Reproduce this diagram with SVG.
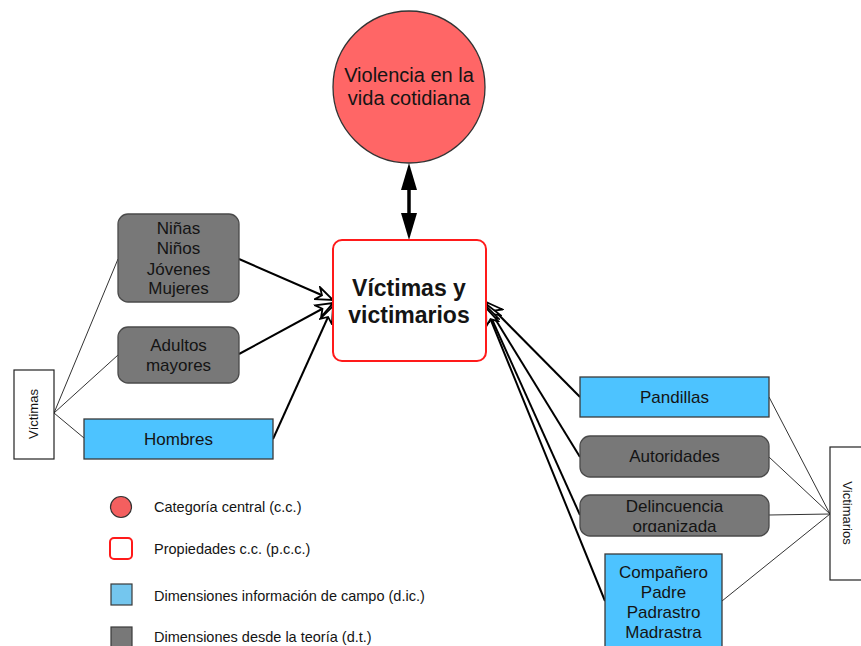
<svg xmlns="http://www.w3.org/2000/svg" width="861" height="646" viewBox="0 0 861 646">
<style>
  text { font-family: "Liberation Sans", Arial, sans-serif; fill: #141414; }
  .nt { font-size: 17px; text-anchor: middle; }
  .ct { font-size: 20px; text-anchor: middle; }
  .pt { font-size: 23px; font-weight: bold; text-anchor: middle; }
  .gray { fill: #787878; stroke: #4a4a4a; stroke-width: 1.3; }
  .blue { fill: #4dc3ff; stroke: #3a3a3a; stroke-width: 1.3; }
  .tag { fill: #ffffff; stroke: #222222; stroke-width: 1.2; }
  .thin { stroke: #333333; stroke-width: 1; fill: none; }
  .arr { stroke: #000000; stroke-width: 2; fill: none; marker-end: url(#open); }
  .lg { font-size: 14.5px; }
  .side { font-size: 13px; text-anchor: middle; }
</style>
<defs>
  <marker id="open" markerUnits="userSpaceOnUse" viewBox="0 0 20 16" markerWidth="20" markerHeight="16" refX="18" refY="8" orient="auto">
    <path d="M1,1.5 L18,8 L1,14.5 L6,8 Z" fill="#ffffff" stroke="#000000" stroke-width="1.8"/>
  </marker>
  <clipPath id="clipDel">
    <rect x="580" y="495" width="189" height="37"/>
  </clipPath>
</defs>

<!-- connectors -->
<g id="connectors">
  <!-- central category <-> properties (double-headed) -->
  <line x1="409" y1="172" x2="409" y2="231" stroke="#000" stroke-width="3.5"/>
  <path d="M409,163 L417,190 L401,190 Z" fill="#000"/>
  <path d="M409,240 L417,213 L401,213 Z" fill="#000"/>

  <!-- Víctimas label to its dimensions -->
  <line class="thin" x1="54" y1="413" x2="118" y2="259"/>
  <line class="thin" x1="54" y1="413" x2="118" y2="355"/>
  <line class="thin" x1="54" y1="413" x2="84" y2="438"/>

  <!-- Victimarios label to its dimensions -->
  <line class="thin" x1="830" y1="514" x2="769" y2="397"/>
  <line class="thin" x1="830" y1="514" x2="769" y2="457"/>
  <line class="thin" x1="830" y1="514" x2="769" y2="515"/>
  <line class="thin" x1="830" y1="514" x2="722" y2="601"/>

  <!-- dimensions to properties box -->
  <line class="arr" x1="239" y1="259" x2="333" y2="300"/>
  <line class="arr" x1="239" y1="354" x2="333" y2="303"/>
  <line class="arr" x1="273" y1="439" x2="333" y2="306"/>
  <line class="arr" x1="580" y1="397" x2="486" y2="302"/>
  <line class="arr" x1="580" y1="457" x2="486" y2="304"/>
  <line class="arr" x1="580" y1="515" x2="486" y2="306"/>
  <line class="arr" x1="605" y1="601" x2="486" y2="308"/>
</g>

<!-- central category -->
<g id="violencia">
  <circle cx="409" cy="87" r="76" fill="#ff6666" stroke="#333333" stroke-width="1.3"/>
  <text class="ct" x="409" y="82">Violencia en la</text>
  <text class="ct" x="409" y="105">vida cotidiana</text>
</g>

<!-- property of the central category -->
<g id="victimas-victimarios">
  <rect x="333" y="240" width="153" height="121" rx="9" fill="#ffffff" stroke="#ff1a1a" stroke-width="2"/>
  <text class="pt" x="409" y="296">Víctimas y</text>
  <text class="pt" x="409" y="323">victimarios</text>
</g>

<!-- Víctimas side -->
<g id="ninas">
  <rect class="gray" x="118" y="214" width="121" height="88" rx="10"/>
  <text class="nt" x="178.5" y="234">Niñas</text>
  <text class="nt" x="178.5" y="254">Niños</text>
  <text class="nt" x="178.5" y="275">Jóvenes</text>
  <text class="nt" x="178.5" y="294">Mujeres</text>
</g>
<g id="adultos">
  <rect class="gray" x="118" y="327" width="121" height="56" rx="10"/>
  <text class="nt" x="178.5" y="351">Adultos</text>
  <text class="nt" x="178.5" y="371">mayores</text>
</g>
<g id="hombres">
  <rect class="blue" x="84" y="419" width="189" height="40"/>
  <text class="nt" x="178.5" y="445">Hombres</text>
</g>
<g id="victimas">
  <rect class="tag" x="14" y="370" width="40" height="89"/>
  <text class="side" transform="translate(38,414) rotate(-90)">Víctimas</text>
</g>

<!-- Victimarios side -->
<g id="pandillas">
  <rect class="blue" x="580" y="377" width="189" height="40"/>
  <text class="nt" x="674.5" y="403">Pandillas</text>
</g>
<g id="autoridades">
  <rect class="gray" x="580" y="436" width="189" height="41" rx="10"/>
  <text class="nt" x="674.5" y="462">Autoridades</text>
</g>
<g id="delincuencia">
  <rect class="gray" x="580" y="495" width="189" height="41" rx="10"/>
  <g clip-path="url(#clipDel)">
    <text class="nt" x="674.5" y="512">Delincuencia</text>
    <text class="nt" x="674.5" y="532">organizada</text>
  </g>
</g>
<g id="familia">
  <rect class="blue" x="605" y="554" width="117" height="100"/>
  <text class="nt" x="663.5" y="578">Compañero</text>
  <text class="nt" x="663.5" y="598">Padre</text>
  <text class="nt" x="663.5" y="618">Padrastro</text>
  <text class="nt" x="663.5" y="638">Madrastra</text>
</g>
<g id="victimarios">
  <rect class="tag" x="830" y="447" width="40" height="133"/>
  <text class="side" transform="translate(843,513) rotate(90)">Victimarios</text>
</g>

<!-- legend -->
<g id="legend">
  <circle cx="121" cy="507" r="10.5" fill="#f45f5f" stroke="#333333" stroke-width="1.2"/>
  <text class="lg" x="154" y="512">Categoría central (c.c.)</text>
  <rect x="110" y="538" width="22" height="21" rx="4" fill="#ffffff" stroke="#ff1a1a" stroke-width="2"/>
  <text class="lg" x="154" y="554">Propiedades c.c. (p.c.c.)</text>
  <rect x="111" y="584" width="21" height="21" fill="#74c6ee" stroke="#3a3a3a" stroke-width="1.2"/>
  <text class="lg" x="154" y="601">Dimensiones información de campo (d.ic.)</text>
  <rect x="111" y="627" width="21" height="21" fill="#787878" stroke="#3a3a3a" stroke-width="1.2"/>
  <text class="lg" x="154" y="642">Dimensiones desde la teoría (d.t.)</text>
</g>
</svg>
